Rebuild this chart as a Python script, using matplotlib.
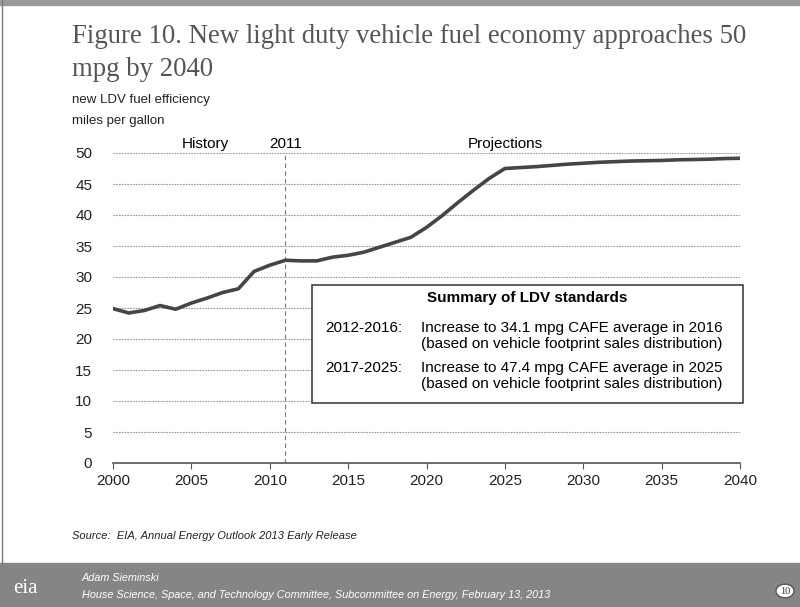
import matplotlib.pyplot as plt
from matplotlib.patches import Rectangle, Circle

# new LDV fuel economy, mpg
years = list(range(2000, 2041))
mpg = [24.9, 24.2, 24.6, 25.4, 24.8, 25.8, 26.6, 27.5, 28.1, 30.9,
       31.9, 32.7, 32.6, 32.6, 33.2, 33.5, 34.0, 34.8, 35.6, 36.4,
       38.0, 39.9, 42.0, 44.0, 45.9, 47.5, 47.65, 47.8, 48.0, 48.2,
       48.35, 48.5, 48.6, 48.7, 48.75, 48.8, 48.9, 48.95, 49.0, 49.1,
       49.15]

xticks = list(range(2000, 2041, 5))
yticks = list(range(0, 51, 5))

sans = 'Liberation Sans'
serif = 'Liberation Serif'

fig = plt.figure(figsize=(8, 6.07), dpi=100)
fig.patch.set_facecolor('white')

# slide frame: top strip, left edge, footer band
fig.patches.append(Rectangle((0, 1 - 5/607), 1, 5/607, transform=fig.transFigure,
                             color='#9a9a9a', zorder=0))
fig.patches.append(Rectangle((0, 0), 1, 44/607, transform=fig.transFigure,
                             color='#858585', zorder=0))
fig.add_artist(plt.Line2D([2/800, 2/800], [44/607, 1], transform=fig.transFigure,
                          color='#777777', lw=1))

# title and units
fig.text(72/800, 1 - 43/607, 'Figure 10. New light duty vehicle fuel economy approaches 50',
         family=serif, fontsize=19.3, color='#555555')
fig.text(72/800, 1 - 76/607, 'mpg by 2040', family=serif, fontsize=19.3, color='#555555')
fig.text(72/800, 1 - 103/607, 'new LDV fuel efficiency', family=sans, fontsize=9.5, color='#222222')
fig.text(72/800, 1 - 124/607, 'miles per gallon', family=sans, fontsize=9.5, color='#222222')

ax = fig.add_axes([113/800, 1 - 463/607, (740 - 113)/800, (463 - 153)/607])
ax.plot(years, mpg, color='#454545', lw=2.6, solid_capstyle='round', zorder=3)

ax.set_xlim(2000, 2040)
ax.set_ylim(0, 50)
ax.set_xticks(xticks)
ax.set_yticks(yticks)
for s in ['top', 'right', 'left']:
    ax.spines[s].set_visible(False)
ax.spines['bottom'].set_color('#555555')
ax.spines['bottom'].set_linewidth(1.2)
ax.tick_params(axis='x', direction='out', length=4, color='#555555', pad=4)
ax.tick_params(axis='y', length=0, pad=15)
for lab in ax.get_xticklabels() + ax.get_yticklabels():
    lab.set_family(sans)
    lab.set_fontsize(11)
    lab.set_color('#222222')
ax.grid(axis='y', ls=(0, (1.5, 1)), color='#9a9a9a', lw=0.8)
ax.set_axisbelow(True)
ax.yaxis.get_gridlines()[0].set_visible(False)

# 2011 marker
ax.axvline(2011, ymax=0.995, color='#777777', ls=(0, (4, 3)), lw=0.8)
ax.text(2011, 50.4, '2011', ha='center', va='bottom', family=sans, fontsize=11)
ax.text(2005.9, 50.4, 'History', ha='center', va='bottom', family=sans, fontsize=11)
ax.text(2025.0, 50.4, 'Projections', ha='center', va='bottom', family=sans, fontsize=11)

# summary box
bx0, bx1 = (312 - 113)/627, (743 - 113)/627
by0, by1 = (463 - 403)/310, (463 - 285)/310
ax.add_patch(Rectangle((bx0, by0), bx1 - bx0, by1 - by0, transform=ax.transAxes,
                       facecolor='white', edgecolor='#333333', lw=1.1, zorder=4,
                       clip_on=False))
ax.text((bx0 + bx1)/2, (463 - 298)/310, 'Summary of LDV standards', transform=ax.transAxes,
        ha='center', va='center', family=sans, fontsize=11, fontweight='bold', zorder=5)
rows = [(328, '2012-2016:', 'Increase to 34.1 mpg CAFE average in 2016'),
        (368, '2017-2025:', 'Increase to 47.4 mpg CAFE average in 2025')]
for y, per, desc in rows:
    ax.text((325 - 113)/627, (463 - y)/310, per, transform=ax.transAxes,
            ha='left', va='center', family=sans, fontsize=11, zorder=5)
    ax.text((421 - 113)/627, (463 - y)/310, desc, transform=ax.transAxes,
            ha='left', va='center', family=sans, fontsize=11, zorder=5)
    ax.text((421 - 113)/627, (463 - y - 16)/310,
            '(based on vehicle footprint sales distribution)', transform=ax.transAxes,
            ha='left', va='center', family=sans, fontsize=11, zorder=5)

# source
fig.text(72/800, 1 - 539/607, 'Source:  EIA, Annual Energy Outlook 2013 Early Release',
         family=sans, fontsize=8, style='italic', color='#222222')

# footer
fig.text(13/800, 1 - 593/607, 'eia', family=serif, fontsize=15, color='white')
fig.text(82/800, 1 - 581/607, 'Adam Sieminski', family=sans, fontsize=7.8,
         style='italic', color='white')
fig.text(82/800, 1 - 598/607,
         'House Science, Space, and Technology Committee, Subcommittee on Energy, February 13, 2013',
         family=sans, fontsize=7.8, style='italic', color='white')
fig.patches.append(Circle((785/800, 1 - 591/607), 9/800, transform=fig.transFigure,
                          facecolor='white', edgecolor='#555555', zorder=2))
fig.text(785/800, 1 - 591/607, '10', ha='center', va='center', family=serif,
         fontsize=7.5, color='#333333', zorder=3)

fig.savefig('out.png', dpi=100)
